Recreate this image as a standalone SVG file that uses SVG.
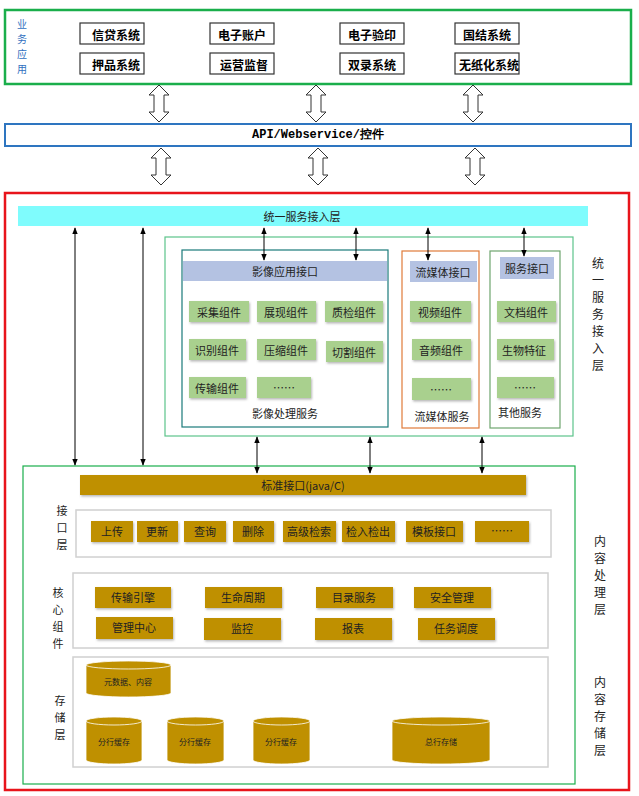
<svg xmlns="http://www.w3.org/2000/svg" width="639" height="796" viewBox="0 0 639 796">
<defs>
<style>
text{font-family:"Noto Sans CJK SC","Liberation Sans",sans-serif;font-size:11px;fill:#222;text-anchor:middle;dominant-baseline:central}
.b{font-weight:bold;font-size:12px;fill:#000}
.sys{fill:#fff;stroke:#333;stroke-width:1.2}
.g{fill:#a9d08e;filter:url(#sh)}
.au{fill:#bf9000;filter:url(#sh)}
.hd{fill:#b4c2e2}
.pan{fill:#fff;stroke:#d0d0d0;stroke-width:1.5}
.ha{fill:#fff;stroke:#333;stroke-width:1}
.ln{stroke:#000;stroke-width:1;fill:none;marker-start:url(#ah);marker-end:url(#ah)}
.v{font-size:12px}
</style>
<filter id="sh" x="-10%" y="-10%" width="130%" height="140%"><feDropShadow dx="1" dy="1.5" stdDeviation="0.8" flood-color="#999" flood-opacity="0.7"/></filter>
<marker id="ah" viewBox="0 0 10 10" refX="9" refY="5" markerWidth="7" markerHeight="7" orient="auto-start-reverse"><path d="M0,1 L10,5 L0,9 z" fill="#000"/></marker>
<path id="dba" d="M0,0 L10,10 L5,10 L5,27 L10,27 L0,37 L-10,27 L-5,27 L-5,10 L-10,10 z"/>
</defs>

<g id="biz">
<rect x="5" y="10" width="626" height="74" fill="#fff" stroke="#1aae4b" stroke-width="2.5"/>
<text style="fill:#2f6fc0;font-size:10px"><tspan x="22" y="23">业</tspan><tspan x="22" y="38">务</tspan><tspan x="22" y="53">应</tspan><tspan x="22" y="68">用</tspan></text>
<rect class="sys" x="80" y="23" width="64" height="21"/><text class="b" x="116" y="34">信贷系统</text>
<rect class="sys" x="80" y="53" width="64" height="21"/><text class="b" x="116" y="64">押品系统</text>
<rect class="sys" x="210" y="23" width="64" height="21"/><text class="b" x="242" y="34">电子账户</text>
<rect class="sys" x="210" y="53" width="64" height="21"/><text class="b" x="244" y="64">运营监督</text>
<rect class="sys" x="340" y="23" width="64" height="21"/><text class="b" x="372" y="34">电子验印</text>
<rect class="sys" x="340" y="53" width="64" height="21"/><text class="b" x="372" y="64">双录系统</text>
<rect class="sys" x="455" y="23" width="64" height="21"/><text class="b" x="487" y="34">国结系统</text>
<rect class="sys" x="455" y="53" width="64" height="21"/><text class="b" x="489" y="64">无纸化系统</text>
</g>

<g id="api">
<rect x="5" y="124" width="626" height="22" fill="#fff" stroke="#2e75c0" stroke-width="2"/>
<text x="318" y="135" style="font-family:'Liberation Mono',monospace;font-weight:bold;font-size:12px;fill:#000">API/Webservice/控件</text>
</g>

<g id="hollow-arrows">
<use href="#dba" class="ha" transform="translate(159,85)"/>
<use href="#dba" class="ha" transform="translate(316,85)"/>
<use href="#dba" class="ha" transform="translate(473,85)"/>
<use href="#dba" class="ha" transform="translate(161,148)"/>
<use href="#dba" class="ha" transform="translate(318,148)"/>
<use href="#dba" class="ha" transform="translate(475,148)"/>
</g>

<g id="platform">
<rect x="5" y="193" width="624" height="597" fill="#fff" stroke="#e8141b" stroke-width="2.5"/>
<rect x="18" y="206" width="570" height="20" fill="#7ffcfd"/>
<text x="302" y="216" style="font-size:11px">统一服务接入层</text>
<text class="v"><tspan x="598" y="262">统</tspan><tspan x="598" y="279">一</tspan><tspan x="598" y="296">服</tspan><tspan x="598" y="313">务</tspan><tspan x="598" y="330">接</tspan><tspan x="598" y="347">入</tspan><tspan x="598" y="364">层</tspan></text>
<text class="v"><tspan x="600" y="540">内</tspan><tspan x="600" y="557">容</tspan><tspan x="600" y="574">处</tspan><tspan x="600" y="591">理</tspan><tspan x="600" y="608">层</tspan></text>
<text class="v"><tspan x="600" y="681">内</tspan><tspan x="600" y="698">容</tspan><tspan x="600" y="715">存</tspan><tspan x="600" y="732">储</tspan><tspan x="600" y="749">层</tspan></text>
</g>

<g id="access">
<rect x="165" y="237" width="408" height="199" fill="#fff" stroke="#5cc48a" stroke-width="1.2"/>
</g>

<g id="image-svc">
<rect x="182" y="250" width="206" height="177" fill="#fff" stroke="#1a7a7a" stroke-width="1.2"/>
<rect class="hd" x="183" y="261" width="204" height="20"/><text x="285" y="271">影像应用接口</text>
<rect class="g" x="189" y="301" width="60" height="21"/><text x="219" y="312">采集组件</text>
<rect class="g" x="257" y="301" width="59" height="21"/><text x="286" y="312">展现组件</text>
<rect class="g" x="325" y="301" width="58" height="21"/><text x="354" y="312">质检组件</text>
<rect class="g" x="189" y="339" width="57" height="21"/><text x="217" y="350">识别组件</text>
<rect class="g" x="257" y="339" width="59" height="21"/><text x="286" y="350">压缩组件</text>
<rect class="g" x="326" y="341" width="57" height="21"/><text x="354" y="352">切割组件</text>
<rect class="g" x="189" y="377" width="57" height="21"/><text x="217" y="388">传输组件</text>
<rect class="g" x="257" y="377" width="54" height="21"/><text x="284" y="387">……</text>
<text x="285" y="413">影像处理服务</text>
</g>

<g id="stream-svc">
<rect x="402" y="251" width="77" height="177" fill="#fff" stroke="#e07b39" stroke-width="1.2"/>
<rect class="hd" x="410" y="261" width="67" height="21"/><text x="443" y="272">流媒体接口</text>
<rect class="g" x="410" y="301" width="61" height="21"/><text x="440" y="312">视频组件</text>
<rect class="g" x="412" y="339" width="59" height="21"/><text x="441" y="350">音频组件</text>
<rect class="g" x="412" y="378" width="59" height="22"/><text x="441" y="389">……</text>
<text x="442" y="416">流媒体服务</text>
</g>

<g id="other-svc">
<rect x="490" y="251" width="70" height="177" fill="#fff" stroke="#6ea56e" stroke-width="1.2"/>
<rect class="hd" x="500" y="257" width="54" height="22"/><text x="527" y="268">服务接口</text>
<rect class="g" x="497" y="301" width="59" height="21"/><text x="526" y="312">文档组件</text>
<rect class="g" x="497" y="339" width="57" height="21"/><text x="524" y="350">生物特征</text>
<rect class="g" x="497" y="377" width="57" height="21"/><text x="525" y="387">……</text>
<text x="520" y="412">其他服务</text>
</g>

<g id="content">
<rect x="23" y="466" width="552" height="318" fill="#fff" stroke="#1aae4b" stroke-width="1.2"/>
<rect class="au" x="80" y="475" width="446" height="20"/><text x="303" y="485">标准接口(java/C)</text>
<text><tspan x="62" y="510">接</tspan><tspan x="62" y="527">口</tspan><tspan x="62" y="544">层</tspan></text>
<rect class="pan" x="76" y="510" width="475" height="47"/>
<rect class="au" x="91" y="521" width="42" height="21"/><text x="112" y="531">上传</text>
<rect class="au" x="137" y="521" width="41" height="21"/><text x="157" y="531">更新</text>
<rect class="au" x="184" y="521" width="42" height="21"/><text x="205" y="531">查询</text>
<rect class="au" x="233" y="521" width="41" height="21"/><text x="253" y="531">删除</text>
<rect class="au" x="283" y="521" width="53" height="21"/><text x="309" y="531">高级检索</text>
<rect class="au" x="342" y="521" width="53" height="21"/><text x="368" y="531">检入检出</text>
<rect class="au" x="406" y="521" width="57" height="21"/><text x="434" y="531">模板接口</text>
<rect class="au" x="475" y="521" width="54" height="21"/><text x="502" y="530">……</text>

<text><tspan x="58" y="592">核</tspan><tspan x="58" y="609">心</tspan><tspan x="58" y="626">组</tspan><tspan x="58" y="643">件</tspan></text>
<rect class="pan" x="73" y="573" width="475" height="75"/>
<rect class="au" x="95" y="587" width="76" height="21"/><text x="133" y="597">传输引擎</text>
<rect class="au" x="205" y="587" width="77" height="21"/><text x="243" y="597">生命周期</text>
<rect class="au" x="316" y="587" width="77" height="21"/><text x="354" y="597">目录服务</text>
<rect class="au" x="414" y="587" width="77" height="21"/><text x="452" y="597">安全管理</text>
<rect class="au" x="96" y="617" width="77" height="22"/><text x="134" y="627">管理中心</text>
<rect class="au" x="204" y="618" width="77" height="22"/><text x="242" y="628">监控</text>
<rect class="au" x="315" y="618" width="77" height="22"/><text x="353" y="628">报表</text>
<rect class="au" x="418" y="618" width="77" height="22"/><text x="456" y="628">任务调度</text>

<text><tspan x="60" y="700">存</tspan><tspan x="60" y="717">储</tspan><tspan x="60" y="734">层</tspan></text>
<rect class="pan" x="73" y="657" width="475" height="110"/>
<g fill="#bf9000" stroke="#fff" stroke-width="0.8">
<path d="M86,665 v28 a42.5,4 0 0 0 85,0 v-28 a42.5,4 0 0 0 -85,0 a42.5,4 0 0 0 85,0"/>
<path d="M86,721 v39 a28,4 0 0 0 56,0 v-39 a28,4 0 0 0 -56,0 a28,4 0 0 0 56,0"/>
<path d="M167,721 v39 a28.5,4 0 0 0 57,0 v-39 a28.5,4 0 0 0 -57,0 a28.5,4 0 0 0 57,0"/>
<path d="M253,721 v39 a28.5,4 0 0 0 57,0 v-39 a28.5,4 0 0 0 -57,0 a28.5,4 0 0 0 57,0"/>
<path d="M392,721 v39 a49,4 0 0 0 98,0 v-39 a49,4 0 0 0 -98,0 a49,4 0 0 0 98,0"/>
</g>
<text x="128" y="681" style="font-size:8px">元数据、内容</text>
<text x="114" y="741" style="font-size:8px">分行缓存</text>
<text x="195" y="741" style="font-size:8px">分行缓存</text>
<text x="281" y="741" style="font-size:8px">分行缓存</text>
<text x="441" y="741" style="font-size:8px">总行存储</text>
</g>

<g id="connectors">
<line class="ln" x1="75" y1="228" x2="75" y2="465"/>
<line class="ln" x1="143" y1="228" x2="143" y2="465"/>
<line class="ln" x1="264" y1="228" x2="264" y2="260"/>
<line class="ln" x1="356" y1="228" x2="356" y2="260"/>
<line class="ln" x1="428" y1="228" x2="428" y2="260"/>
<line class="ln" x1="524" y1="228" x2="524" y2="256"/>
<line class="ln" x1="257" y1="437" x2="257" y2="473"/>
<line class="ln" x1="370" y1="437" x2="370" y2="473"/>
<line class="ln" x1="482" y1="437" x2="482" y2="473"/>
</g>
</svg>
